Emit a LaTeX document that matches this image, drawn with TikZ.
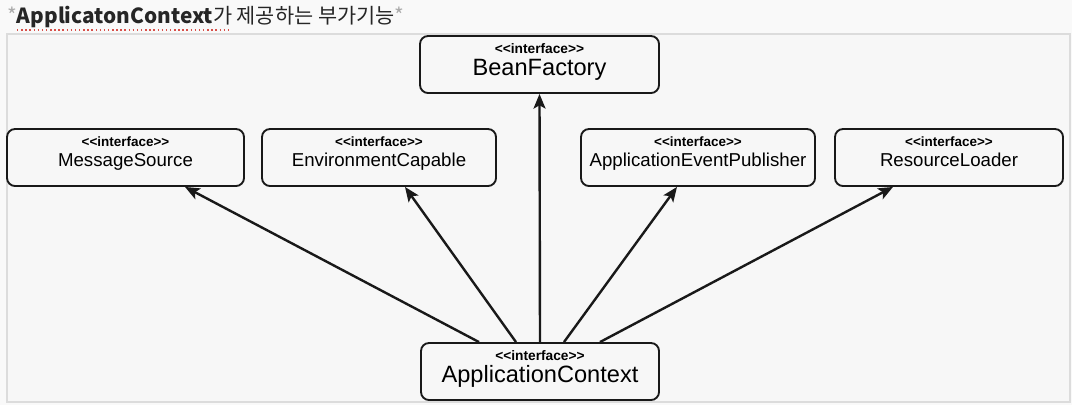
\documentclass[tikz,border=0pt]{standalone}
\usepackage{fontspec}
\usepackage{tikz}
\usetikzlibrary{arrows.meta}

\newfontfamily\boxfont{Liberation Sans}
\newfontfamily\krfont{Noto Sans CJK KR}

\definecolor{pagebg}{HTML}{F9F9F9}
\definecolor{framefill}{HTML}{F7F7F7}
\definecolor{framegray}{HTML}{DCDCDC}
\definecolor{titleink}{HTML}{262626}
\definecolor{stargray}{HTML}{ABABAB}
\definecolor{spellred}{HTML}{D8504A}

\newcommand{\stereo}{\textbf{<{}<interface>{}>}}

\tikzset{
	iface/.style={draw=black!90, line width=1.4pt, rounded corners=6pt, minimum height=42.75pt, inner sep=0pt, align=center},
	bigiface/.style={iface, text depth=8pt, font=\boxfont\fontsize{10.3}{16.5}\selectfont},
	smalliface/.style={iface, text depth=9.5pt, font=\boxfont\fontsize{10.1}{15}\selectfont},
	inherit/.style={-{Stealth[length=11pt, width=9pt, inset=2.5pt]}, line width=1.8pt, black!90},
}

\begin{document}
\begin{tikzpicture}[x=0.75pt, y=-0.75pt]
	% 배경과 테두리
	\fill[pagebg] (0,0) rectangle (1072,405);
	\useasboundingbox (0,0) rectangle (1072,405);
	\filldraw[draw=framegray, fill=framefill, line width=1.5pt] (7,34) rectangle (1070,402);
	
	% 제목
	\node[anchor=base west, inner sep=0pt, text=titleink, font=\krfont\fontsize{15.6}{18}\selectfont] (title) at (7,23)
		{{\color{stargray}*}\textbf{ApplicatonContext}가 제공하는 부가기능{\color{stargray}*}};
	\draw[spellred, dotted, line width=1.1pt] (17,30) -- (230,30);
	
	% ---------- 위: BeanFactory ----------
	\node[bigiface, minimum width=179.25pt] (bf) at (539.5,64.5) {\stereo\\{\fontsize{17.7}{16.5}\selectfont BeanFactory}};
	
	% ---------- 가운데 줄: 부가기능 인터페이스 ----------
	\node[smalliface, minimum width=177.75pt] (ms) at (125.5,157.5) {\stereo\\{\fontsize{14}{15}\selectfont MessageSource}};
	\node[smalliface, minimum width=175.5pt] (ec) at (379,157.5) {\stereo\\{\fontsize{14}{15}\selectfont EnvironmentCapable}};
	\node[smalliface, minimum width=175.5pt] (aep) at (698,157.5) {\stereo\\{\fontsize{14}{15}\selectfont ApplicationEventPublisher}};
	\node[smalliface, minimum width=171pt] (rl) at (949,157.5) {\stereo\\{\fontsize{14}{15}\selectfont ResourceLoader}};
	
	% ---------- 아래: ApplicationContext ----------
	\node[bigiface, minimum width=178.5pt] (ac) at (540,371.5) {\stereo\\{\fontsize{17.7}{16.5}\selectfont ApplicationContext}};
	
	% 상속 화살표
	\draw[inherit] (ac.north -| 479,0) -- (ms.south -| 185,0);
	\draw[inherit] (ac.north -| 516,0) -- (ec.south -| 405,0);
	\draw[inherit] (ac.north) -- (bf.south);
	\draw[inherit] (ac.north -| 564,0) -- (aep.south -| 677,0);
	\draw[inherit] (ac.north -| 600,0) -- (rl.south -| 893,0);
\end{tikzpicture}
\end{document}
